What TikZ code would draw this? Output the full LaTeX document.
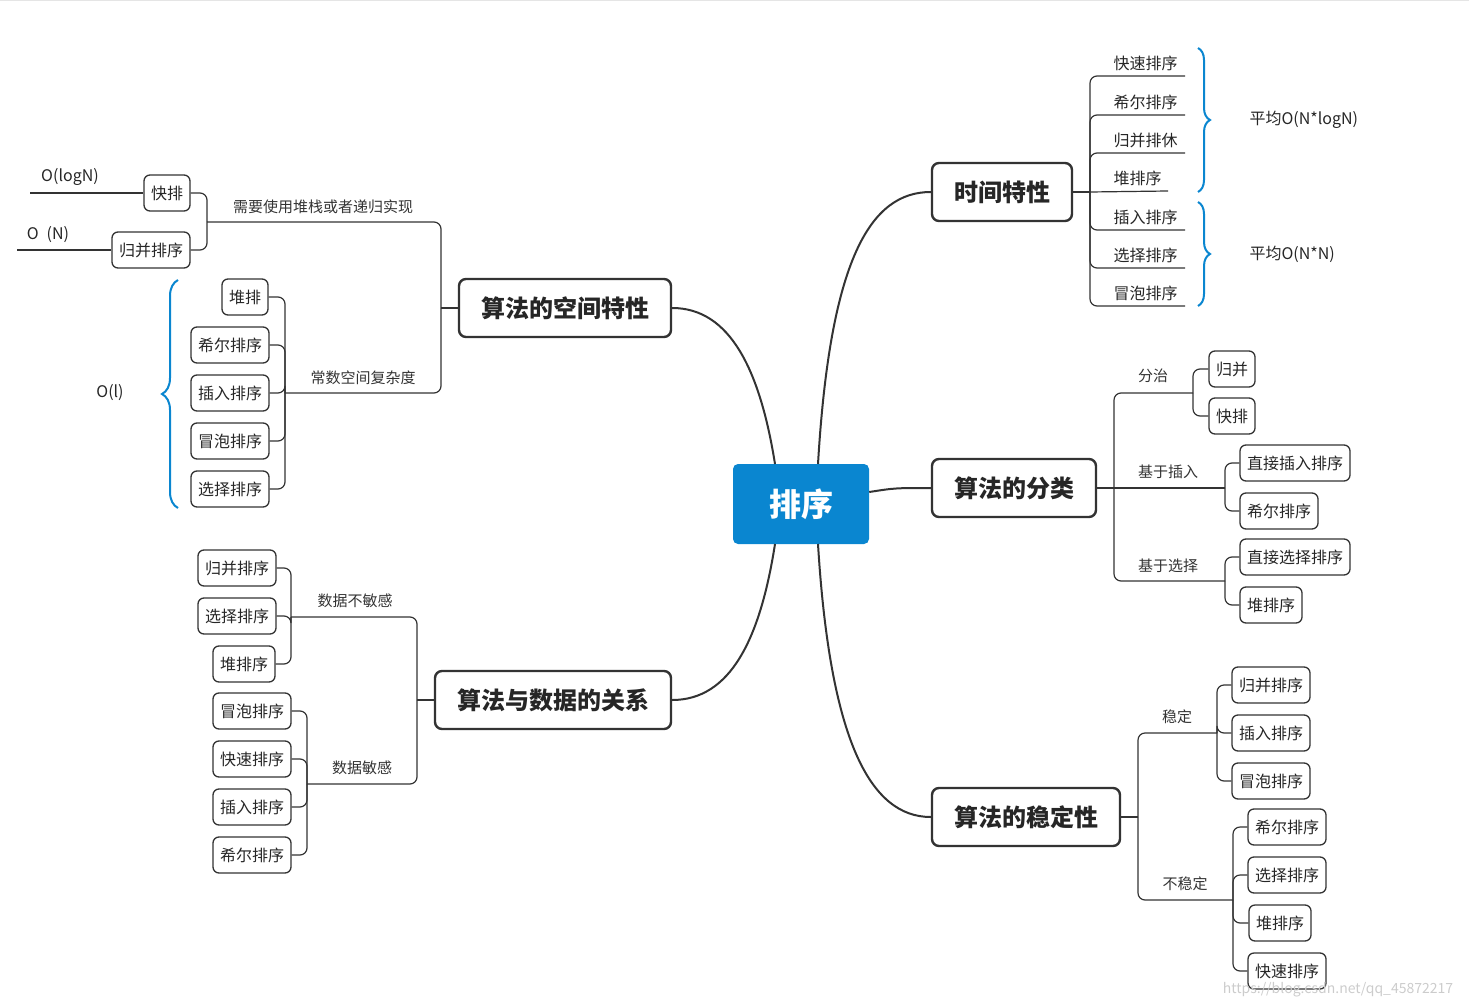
\documentclass[tikz,border=0pt]{standalone}
\usepackage{fontspec}
\setmainfont{Noto Sans CJK SC}
\usetikzlibrary{decorations.pathreplacing,calc}
\definecolor{ink}{HTML}{333333}
\definecolor{blu}{HTML}{0A86D0}
\begin{document}
\begin{tikzpicture}[x=1pt,y=-1pt,
  leaf/.style={draw=ink,line width=1.3pt,rounded corners=6pt,minimum height=36pt,inner xsep=7pt,font=\fontsize{16}{16}\selectfont,text=black!85},
  mainb/.style={draw=ink,line width=2.4pt,rounded corners=7pt,minimum height=58pt,inner xsep=22pt,font=\fontsize{24}{24}\selectfont\bfseries,text=black!85},
  conn/.style={draw=ink,line width=1.2pt,rounded corners=7pt},
  curve/.style={draw=ink,line width=2pt},
  lab/.style={font=\fontsize{15}{15}\selectfont,text=black!80},
  olab/.style={font=\fontsize{16}{16}\selectfont,text=black!85},
  br/.style={draw=blu,line width=2pt,decorate,decoration={brace,amplitude=12pt}}]
\useasboundingbox (0,0) rectangle (1469,1008);
\draw[black!10,line width=1pt] (0,1) -- (1469,1);
% root
\node[fill=blu,rounded corners=5pt,minimum width=136pt,minimum height=80pt,text=white,font=\fontsize{32}{32}\selectfont\bfseries] (root) at (801,504) {排序};
% main nodes
\node[mainb] (time) at (1002,192) {时间特性};
\node[mainb] (space) at (565,308) {算法的空间特性};
\node[mainb] (cls) at (1014,488) {算法的分类};
\node[mainb] (data) at (553,700) {算法与数据的关系};
\node[mainb] (stab) at (1026,817) {算法的稳定性};
\coordinate (r1) at (818,464); \coordinate (r2) at (775,464);
\coordinate (r3) at (818,544); \coordinate (r4) at (775,544);
\draw[curve] (r1) .. controls (830,260) and (870,192) .. (time.west);
\draw[curve] (r2) .. controls (760,370) and (730,308) .. (space.east);
\draw[curve] ($(root.east)+(0,-12)$) .. controls (895,488) .. (cls.west);
\draw[curve] (r4) .. controls (760,640) and (730,700) .. (data.east);
\draw[curve] (r3) .. controls (830,740) and (870,817) .. (stab.west);
% time subtree
\coordinate (ts) at (1090,192);
\draw[conn,rounded corners=0] (time.east) -- (ts);
\foreach \t/\y in {快速排序/76,希尔排序/115,归并排休/153,插入排序/230,选择排序/268,冒泡排序/306}{
  \draw[conn] (ts) |- (1185,\y);
  \node[olab,anchor=south west] at (1110,\y-2) {\t};}
\draw[conn,rounded corners=0] (ts) -- (1168,191);
\node[olab,anchor=south west] at (1110,189) {堆排序};
\draw[br] (1198,48) -- (1198,192);
\draw[br] (1198,202) -- (1198,306);
\node[olab,anchor=west] (t1) at (1246,120) {平均O(N*logN)};
\node[olab,anchor=west] (t2) at (1246,254) {平均O(N*N)};
% space subtree
\coordinate (sp) at (441,308);
\coordinate (su) at (207,222);
\coordinate (sl) at (285,393);
\draw[conn,rounded corners=0] (space.west) -- (sp);
\draw[conn] (sp) |- (su); \draw[conn] (sp) |- (sl);
\node[lab] at (323,207) {需要使用堆栈或者递归实现};
\node[lab] at (363,378) {常数空间复杂度};
\node[leaf] (kp) at (167,193) {快排};
\node[leaf] (gb) at (151,250) {归并排序};
\draw[conn] (kp.east) -| (su); \draw[conn] (gb.east) -| (su);
\coordinate (o1) at (30,193); \coordinate (o2) at (17,250);
\draw[ink,line width=1.2pt] (o1) -- (kp.west);
\draw[ink,line width=1.2pt] (o2) -- (gb.west);
\node[olab] at (70,177) {O(logN)};
\node[olab] at (48,235) {O\enspace(N)};
\node[leaf] (s1) at (245,297) {堆排};
\node[leaf] (s2) at (230,345) {希尔排序};
\node[leaf] (s3) at (230,393) {插入排序};
\node[leaf] (s4) at (230,441) {冒泡排序};
\node[leaf] (s5) at (230,489) {选择排序};
\foreach \n in {s1,s2,s3,s4,s5} \draw[conn] (\n.east) -| (sl);
\draw[br,decoration={brace,amplitude=16pt}] (178,508) -- (178,280);
\node[olab] at (110,393) {O(l)};
% classification
\coordinate (cs) at (1114,488);
\coordinate (c1) at (1193,393); \coordinate (c2) at (1225,488); \coordinate (c3) at (1225,581);
\draw[conn,rounded corners=0] (cls.east) -- (cs);
\draw[conn] (cs) |- (c1); \draw[conn,rounded corners=0] (cs) -- (c2); \draw[conn] (cs) |- (c3);
\node[lab] at (1153,376) {分治};
\node[lab] at (1168,472) {基于插入};
\node[lab] at (1168,566) {基于选择};
\node[leaf] (d1) at (1232,369) {归并};
\node[leaf] (d2) at (1232,416) {快排};
\node[leaf] (d3) at (1295,463) {直接插入排序};
\node[leaf] (d4) at (1279,511) {希尔排序};
\node[leaf] (d5) at (1295,557) {直接选择排序};
\node[leaf] (d6) at (1271,605) {堆排序};
\draw[conn] (d1.west) -| (c1); \draw[conn] (d2.west) -| (c1);
\draw[conn] (d3.west) -| (c2); \draw[conn] (d4.west) -| (c2);
\draw[conn] (d5.west) -| (c3); \draw[conn] (d6.west) -| (c3);
% data subtree
\coordinate (ds) at (417,700);
\coordinate (e1) at (291,617); \coordinate (e2) at (307,784);
\draw[conn,rounded corners=0] (data.west) -- (ds);
\draw[conn] (ds) |- (e1); \draw[conn] (ds) |- (e2);
\node[lab] at (355,601) {数据不敏感};
\node[lab] at (362,768) {数据敏感};
\node[leaf] (f1) at (237,568) {归并排序};
\node[leaf] (f2) at (237,616) {选择排序};
\node[leaf] (f3) at (244,664) {堆排序};
\node[leaf] (f4) at (252,711) {冒泡排序};
\node[leaf] (f5) at (252,759) {快速排序};
\node[leaf] (f6) at (252,807) {插入排序};
\node[leaf] (f7) at (252,855) {希尔排序};
\foreach \n in {f1,f2,f3} \draw[conn] (\n.east) -| (e1);
\foreach \n in {f4,f5,f6,f7} \draw[conn] (\n.east) -| (e2);
% stability
\coordinate (ss) at (1138,817);
\coordinate (g1) at (1217,733); \coordinate (g2) at (1233,900);
\draw[conn,rounded corners=0] (stab.east) -- (ss);
\draw[conn] (ss) |- (g1); \draw[conn] (ss) |- (g2);
\node[lab] at (1177,717) {稳定};
\node[lab] at (1185,884) {不稳定};
\node[leaf] (h1) at (1271,685) {归并排序};
\node[leaf] (h2) at (1271,733) {插入排序};
\node[leaf] (h3) at (1271,781) {冒泡排序};
\node[leaf] (h4) at (1287,827) {希尔排序};
\node[leaf] (h5) at (1287,875) {选择排序};
\node[leaf] (h6) at (1280,923) {堆排序};
\node[leaf] (h7) at (1287,971) {快速排序};
\foreach \n in {h1,h2,h3} \draw[conn] (\n.west) -| (g1);
\foreach \n in {h4,h5,h6,h7} \draw[conn] (\n.west) -| (g2);
\node[font=\fontsize{14}{14}\selectfont,text=black!20] at (1338,990) {https://blog.csdn.net/qq\_45872217};
\end{tikzpicture}
\end{document}
